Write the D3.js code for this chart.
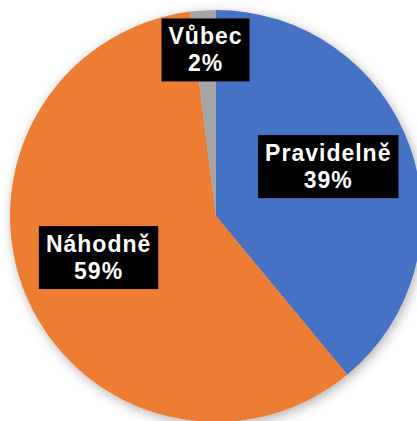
<!DOCTYPE html>
<html>
<head>
<meta charset="utf-8">
<script src="https://cdn.jsdelivr.net/npm/d3@7"></script>
<style>
  html, body { margin: 0; padding: 0; background: #fff; }
  svg { display: block; }
</style>
</head>
<body>
<div id="chart"></div>
<script>
// chart data
const categories = ["Pravidelně", "Náhodně", "Vůbec"];
const values = [39, 59, 2];
const colors = ["#4472C4", "#ED7D31", "#A5A5A5"];

const width = 417, height = 421;
const radius = 206;
const cx = 216, cy = 216;

const svg = d3.select("#chart")
  .append("svg")
  .attr("width", width)
  .attr("height", height);

// soft shadow round the pie
const defs = svg.append("defs");
const filter = defs.append("filter")
  .attr("id", "shadow")
  .attr("x", "-20%").attr("y", "-20%")
  .attr("width", "140%").attr("height", "140%");
filter.append("feDropShadow")
  .attr("dx", 2).attr("dy", 3)
  .attr("stdDeviation", 6)
  .attr("flood-color", "#000")
  .attr("flood-opacity", 0.3);

const g = svg.append("g")
  .attr("transform", `translate(${cx}, ${cy})`);

const color = d3.scaleOrdinal()
  .domain(categories)
  .range(colors);

const pie = d3.pie()
  .sort(null)
  .value(function(d) { return d.value; });

const arc = d3.arc()
  .innerRadius(0)
  .outerRadius(radius);

const data = pie(categories.map(function(c, i) {
  return { name: c, value: values[i] };
}));

g.append("g")
  .attr("filter", "url(#shadow)")
  .selectAll("path")
  .data(data)
  .enter()
  .append("path")
  .attr("d", arc)
  .attr("fill", function(d) { return color(d.data.name); });

// labels: small slices get pushed out towards the edge
function labelPos(d) {
  const share = (d.endAngle - d.startAngle) / (2 * Math.PI);
  if (share < 0.05) {
    const r = radius * 0.81;
    return d3.arc().innerRadius(r).outerRadius(r).centroid(d);
  }
  const r = radius * 0.6;
  const c = d3.arc().innerRadius(r).outerRadius(r).centroid(d);
  return [c[0] - 4, c[1] - 8];
}

const total = d3.sum(values);

const labels = g.selectAll(".label")
  .data(data)
  .enter()
  .append("g")
  .attr("class", "label")
  .attr("transform", function(d) { return "translate(" + labelPos(d) + ")"; });

const rects = labels.append("rect").attr("fill", "#000");

const texts = labels.append("text")
  .attr("text-anchor", "middle")
  .attr("fill", "#fff")
  .style("font-family", "'Liberation Sans', Arial, sans-serif")
  .style("font-weight", "bold")
  .style("font-size", "23px")
  .style("letter-spacing", "1px");

texts.append("tspan")
  .attr("x", 0)
  .attr("y", -5)
  .text(function(d) { return d.data.name; });

texts.append("tspan")
  .attr("x", 0)
  .attr("y", 22)
  .text(function(d) { return Math.round(d.data.value * 100 / total) + "%"; });

texts.each(function() {
  const bb = this.getBBox();
  d3.select(this.parentNode).select("rect")
    .attr("x", -bb.width / 2 - 7)
    .attr("y", -31)
    .attr("width", bb.width + 14)
    .attr("height", 63);
});
</script>
</body>
</html>
